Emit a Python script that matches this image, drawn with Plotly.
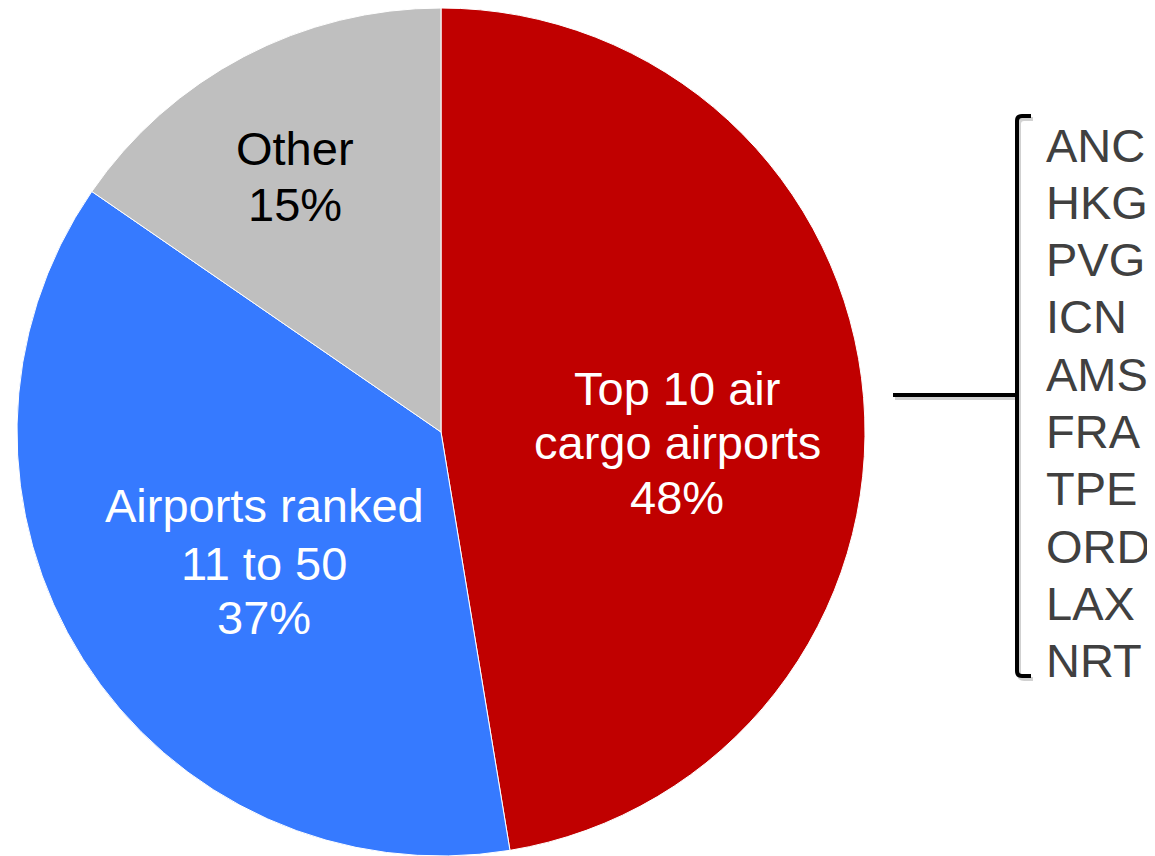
import plotly.graph_objects as go

# ---- data ----
categories = ["Top 10 air cargo airports", "Airports ranked 11 to 50", "Other"]
shares = [47.4, 37.2, 15.4]  # slice sizes as drawn in the picture (labelled 48% / 37% / 15%)
label_lines = [["Top 10 air", "cargo airports", "48%"],
               ["Airports ranked", "11 to 50", "37%"],
               ["Other", "15%"]]
top10_codes = ["ANC", "HKG", "PVG", "ICN", "AMS", "FRA", "TPE", "ORD", "LAX", "NRT"]

# ---- style ----
OFF = 8  # default page body margin
W, H = 1155 - OFF, 856 - OFF
colors = ["#C00000", "#367AFF", "#BFBFBF"]
text_colors = ["white", "white", "black"]
FONT = "Liberation Sans, Arial, sans-serif"


def px(x):
    return (x - OFF) / W


def py(y):
    return 1 - (y - OFF) / H


fig = go.Figure(go.Pie(
    labels=categories, values=shares, sort=False, direction="clockwise", rotation=0,
    marker=dict(colors=colors, line=dict(color="white", width=1)),
    textinfo="none", hoverinfo="label", showlegend=False,
    domain=dict(x=[0, 2 * (441 - OFF) / W], y=[0, 1]),
))

annotations = []
# label block placement (viewport pixel centres of each text line)
label_pos = [(677, [388, 442, 497]), (264, [505, 563, 617]), (295, [149, 204])]
for lines, (cx, ys), tc in zip(label_lines, label_pos, text_colors):
    for line, yy in zip(lines, ys):
        annotations.append(dict(x=px(cx), y=py(yy), xref="paper", yref="paper",
                                text=line, showarrow=False, xanchor="center", yanchor="middle",
                                font=dict(family=FONT, size=47, color=tc)))

for i, code in enumerate(top10_codes):
    annotations.append(dict(x=px(1044), y=py(145 + i * 57.3), xref="paper", yref="paper",
                            text=code, showarrow=False, xanchor="left", yanchor="middle",
                            font=dict(family=FONT, size=47, color="#404040")))


def bracket_path(dx=0, dy=0):
    xv, xh = 1017 + dx, 1031 + dx
    yt, yb = 116 + dy, 676 + dy
    r = 5
    return (f"M {px(xh)},{py(yt)} L {px(xv + r)},{py(yt)} Q {px(xv)},{py(yt)} {px(xv)},{py(yt + r)} "
            f"L {px(xv)},{py(yb - r)} Q {px(xv)},{py(yb)} {px(xv + r)},{py(yb)} L {px(xh)},{py(yb)}")


shapes = [
    # soft shadow
    dict(type="path", xref="paper", yref="paper", path=bracket_path(2, 3),
         line=dict(color="rgba(0,0,0,0.18)", width=4)),
    dict(type="line", xref="paper", yref="paper", x0=px(895), x1=px(1019), y0=py(398), y1=py(398),
         line=dict(color="rgba(0,0,0,0.18)", width=4)),
    # bracket and connector
    dict(type="path", xref="paper", yref="paper", path=bracket_path(),
         line=dict(color="black", width=4)),
    dict(type="line", xref="paper", yref="paper", x0=px(893), x1=px(1017), y0=py(395), y1=py(395),
         line=dict(color="black", width=4)),
]

fig.update_layout(
    width=W, height=H, margin=dict(l=0, r=0, t=0, b=0),
    paper_bgcolor="white", plot_bgcolor="white",
    annotations=annotations, shapes=shapes,
)

fig.write_html("out.html")
